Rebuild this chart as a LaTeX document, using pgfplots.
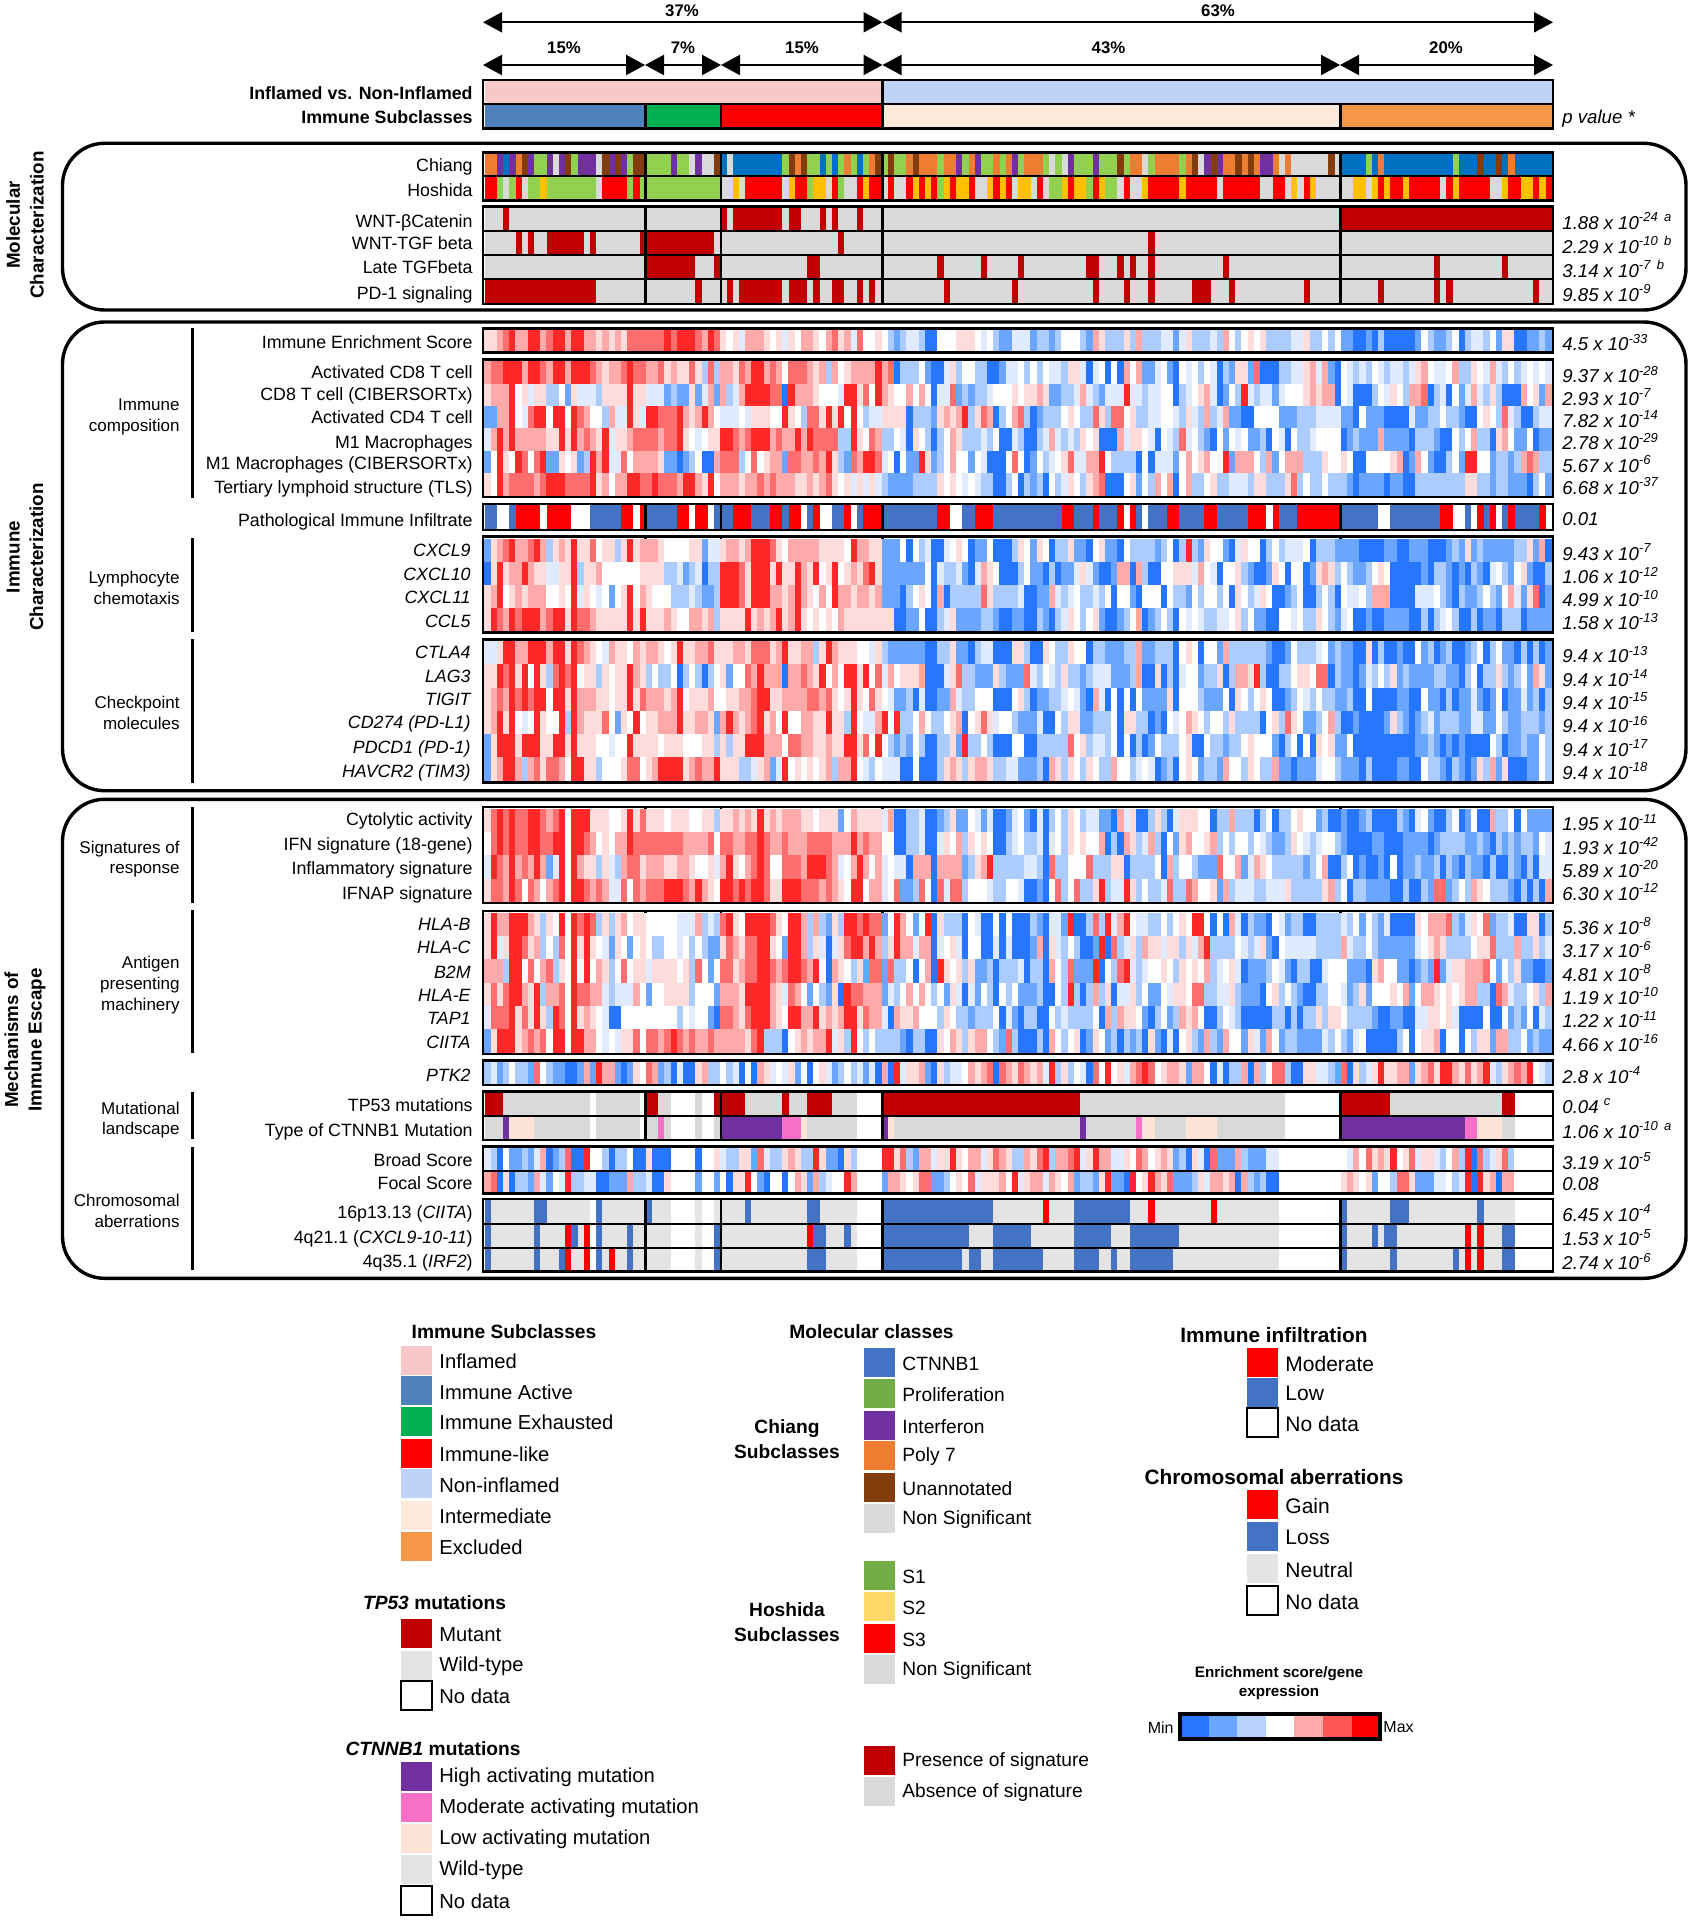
\documentclass[border=0pt]{standalone}
\usepackage{fontspec}
\setmainfont{Liberation Sans}
\usepackage{pgfplots}
\pgfplotsset{compat=1.18}
\usetikzlibrary{arrows.meta}

% categorical colours
\definecolor{catn}{RGB}{217,217,217}
\definecolor{catd}{RGB}{192,0,0}
\definecolor{cato}{RGB}{237,125,49}
\definecolor{catp}{RGB}{112,48,160}
\definecolor{catb}{RGB}{0,112,192}
\definecolor{catg}{RGB}{146,208,80}
\definecolor{catu}{RGB}{132,60,12}
\definecolor{catr}{RGB}{255,0,0}
\definecolor{caty}{RGB}{255,192,0}
\definecolor{catl}{RGB}{68,114,196}
\definecolor{catw}{RGB}{255,255,255}
\definecolor{catm}{RGB}{246,111,200}
\definecolor{catf}{RGB}{253,228,214}
\definecolor{cate}{RGB}{228,228,228}
\definecolor{cati}{RGB}{248,200,200}
\definecolor{catj}{RGB}{192,210,248}
\definecolor{cata}{RGB}{79,129,189}
\definecolor{catx}{RGB}{0,176,80}
\definecolor{catq}{RGB}{253,233,217}
\definecolor{catk}{RGB}{247,150,70}
\definecolor{legg}{RGB}{112,173,71}
\definecolor{legy}{RGB}{255,217,102}
\definecolor{barA}{RGB}{38,118,255}
\definecolor{barB}{RGB}{106,165,255}
\definecolor{barC}{RGB}{184,210,255}
\definecolor{barE}{RGB}{255,170,170}
\definecolor{barF}{RGB}{255,85,85}

% one heatmap cell, half height = mark size
\pgfdeclareplotmark{cell}{\pgfpathrectangle{\pgfpoint{-1.6pt}{-\pgfplotmarksize}}{\pgfpoint{3.2pt}{2\pgfplotmarksize}}\pgfusepathqfill}
\pgfplotsset{hm/.style={scatter,only marks,mark=cell,forget plot,point meta=explicit,
  scatter/use mapped color={fill=mapped color}}}
\tikzset{pa/.style={line width=1.1pt,{Triangle[length=9.5pt,width=10pt]}-{Triangle[length=9.5pt,width=10pt]}},
  pn/.style={line width=1.7pt,rounded corners=21pt},
  every node/.append style={inner sep=0pt}}

\newcommand\hgroup[3]{\foreach\v[count=\i from #2] in {#3}{\pgfmathsetmacro\xx{484.5+6.205*(\i+.5)}\xdef\buf{\buf(\xx,#1)[\v]}}}
% y, half height, then the five subclasses
\newcommand\hrow[7]{\gdef\buf{}\hgroup{#1}{0}{#3}\hgroup{#1}{26}{#4}\hgroup{#1}{38}{#5}\hgroup{#1}{64}{#6}\hgroup{#1}{138}{#7}%
  \edef\tmp{\noexpand\addplot[hm,mark size=#2pt] coordinates {\buf};}\tmp}

% y, thickness, list of colour/number of patients
\newcount\cpos
\newcommand\catrow[3]{\global\cpos=0 \foreach\c/\n in {#3}{%
  \pgfmathsetmacro\xa{484.5+6.205*\the\cpos}\global\advance\cpos by \n\relax\pgfmathsetmacro\xb{484.5+6.205*\the\cpos}%
  \edef\tmp{\noexpand\addplot[forget plot,line width=#2pt,color=cat\c] coordinates {(\xa,#1)(\xb,#1)};}\tmp}}

\newcommand\boxr[2]{\draw[line width=1.4pt] (483,#1) rectangle (1553,#2);}
\newcommand\seps[2]{\draw[line width=1.2pt] (645.5,#1)--(645.5,#2);\draw[line width=1.2pt] (721,#1)--(721,#2);\draw[line width=1.2pt] (882.5,#1)--(882.5,#2);\draw[line width=1.2pt] (1340.5,#1)--(1340.5,#2);}
\newcommand\hl[1]{\draw[line width=1pt] (483,#1)--(1553,#1);}
\newcommand\lab[2]{\node[anchor=east,font=\lf] at (473,#1) {#2};}
\newcommand\gen[2]{\node[anchor=east,font=\lf\itshape] at (471,#1) {#2};}
\newcommand\pv[4]{\node[anchor=west,font=\pf] at (1562,#1+2) {\textit{#2 x 10\textsuperscript{#3}\,\textsuperscript{\,#4}}};}
\newcommand\pvp[3]{\node[anchor=west,font=\pf] at (1562,#1+2) {\textit{#2}\,\textsuperscript{\,\textit{#3}}};}
\newcommand\grp[2]{\node[anchor=east,align=right,font=\grf] at (180,#1) {#2};}
\newcommand\vb[2]{\draw[line width=1.5pt] (192,#1)--(192,#2);}
\newcommand\sw[5][\gf]{\fill[#4] (#2,#3-14.5) rectangle (#2+31,#3+14.5);\node[anchor=west,font=#1] at (#2+38,#3+1.5) {#5};}
\newcommand\swn[4][\gf]{\draw[line width=1pt,fill=white] (#2,#3-14.5) rectangle (#2+31,#3+14.5);\node[anchor=west,font=#1] at (#2+38,#3+1.5) {#4};}
\newcommand\swm[3]{\sw[\gfm]{864}{#1}{#2}{#3}}
\newcommand\swr[3]{\sw[\gfr]{1247}{#1}{#2}{#3}}
\newcommand\pct[3]{\node[font=\fontsize{8.4}{10}\selectfont\bfseries] at (#1,#2) {#3\%};}
\newcommand\side[2]{\node[rotate=90,align=center,font=\fontsize{9.4}{11.8}\selectfont\bfseries] at (25,#1) {#2};}
\newcommand\lf{\fontsize{8.9}{11}\selectfont}
\newcommand\pf{\fontsize{9.3}{11}\selectfont}
\newcommand\grf{\fontsize{8.5}{10.4}\selectfont}
\newcommand\gf{\fontsize{10.1}{12}\selectfont}
\newcommand\gfm{\fontsize{9.6}{12}\selectfont}
\newcommand\gfr{\fontsize{10.5}{12}\selectfont}
\newcommand\tf{\fontsize{9.6}{12.3}\selectfont\bfseries}

\begin{document}
\begin{tikzpicture}
\useasboundingbox (0,0) rectangle (846.5pt,960pt);
\begin{axis}[
  at={(0,0)},anchor=south west,
  width=846.5pt,height=960pt,scale only axis,hide axis,clip=false,
  xmin=0,xmax=1693,ymin=0,ymax=1920,y dir=reverse,
  point meta min=1,point meta max=9,
  colormap={heat}{rgb255=(38,118,255) rgb255=(106,165,255) rgb255=(172,203,255) rgb255=(225,235,255) rgb255=(255,255,255) rgb255=(255,220,220) rgb255=(255,170,170) rgb255=(255,110,110) rgb255=(255,40,40)},
]
% top bars
\catrow{92}{12}{i/64,j/108}
\catrow{116.3}{12}{a/26,x/12,r/26,q/74,k/34}
% molecular
\catrow{164.5}{12}{o/2,p/1,b/1,p/1,o/1,u/1,p/1,g/2,p/1,n/1,p/1,u/1,g/1,p/3,n/1,u/1,p/1,u/1,p/1,g/1,u/2,g/4,p/1,g/2,n/1,p/1,n/2,u/1,b/1,n/1,b/8,g/1,u/1,o/1,u/1,g/2,b/1,g/1,b/1,g/1,o/1,g/1,b/1,g/1,o/1,u/1,g/1,u/1,g/2,o/1,u/1,o/3,g/1,o/2,p/1,g/1,o/1,p/1,g/2,o/1,g/1,o/1,p/1,g/1,o/3,g/1,n/1,g/1,n/1,p/1,g/3,p/1,g/3,u/1,g/1,o/2,n/1,g/1,o/4,g/1,o/1,u/1,n/1,p/1,u/1,p/1,o/2,u/1,o/1,u/1,o/1,p/2,o/1,n/1,o/1,n/6,u/1,n/1,b/4,g/1,b/1,o/1,b/11,g/1,b/3,u/1,b/2,u/1,b/1,o/1,b/6}
\catrow{188}{12}{r/2,g/1,n/1,g/1,r/1,n/1,g/2,y/1,g/8,n/1,r/4,g/1,r/1,g/1,g/12,n/2,y/1,n/1,r/6,n/1,y/1,r/2,g/1,y/2,n/1,r/1,g/1,n/2,r/1,y/1,r/2,n/1,r/1,n/2,r/1,y/1,r/1,y/1,r/1,g/1,y/1,r/1,y/2,r/1,n/2,y/1,r/1,y/1,r/1,n/1,y/2,n/1,r/1,n/1,g/2,y/1,r/1,y/2,g/1,r/1,y/1,g/2,n/1,r/1,n/2,y/1,r/5,y/1,r/5,n/1,r/6,n/2,r/2,n/1,y/1,n/1,r/1,y/1,n/4,n/2,y/2,n/1,y/1,r/1,y/1,r/2,y/1,r/5,n/1,r/1,y/1,r/5,n/2,y/1,r/2,y/2,r/1,y/1,r/1}
\catrow{219}{12.3}{n/3,d/1,n/22,n/12,d/1,n/1,d/8,n/1,d/2,n/3,d/1,n/1,d/1,n/3,d/1,n/3,n/74,d/34}
\catrow{243}{12}{n/5,d/1,n/1,d/1,n/2,d/6,n/1,d/1,n/7,d/1,d/11,n/1,n/19,d/1,n/6,n/43,d/1,n/30,n/34}
\catrow{267}{12}{n/26,d/8,n/3,d/1,n/14,d/2,n/10,n/9,d/1,n/6,d/1,n/5,d/1,n/10,d/2,n/3,d/1,n/1,d/1,n/2,d/1,n/11,d/1,n/18,n/15,d/1,n/10,d/1,n/7}
\catrow{291.3}{12.6}{d/18,n/8,n/8,d/1,n/3,n/1,d/1,n/1,d/7,n/1,d/3,n/1,d/1,n/2,d/2,n/2,d/1,n/1,d/1,n/1,n/10,d/1,n/10,d/1,n/12,d/1,n/4,d/1,n/3,d/1,n/6,d/3,n/3,d/1,n/11,d/1,n/5,n/6,d/1,n/8,d/1,n/1,d/1,n/13,d/1,n/2}
% immune enrichment score
\hrow{340.5}{5.4}{6,6,7,8,9,7,7,9,9,7,8,9,9,7,9,9,7,7,6,7,6,7,6,8,8,8}{8,8,8,9,8,9,9,9,8,7,9,8}{6,5,6,4,7,7,7,6,5,6,4,6,5,7,7,6,5,7,8,6,7,4,8,5,5,6}{5,3,2,3,4,4,3,1,1,5,5,5,6,6,6,5,4,5,3,2,2,4,4,4,2,3,3,2,3,5,5,5,3,2,7,6,3,3,3,6,3,7,3,3,3,4,4,2,4,6,3,3,3,4,3,7,5,3,5,6,5,6,3,3,3,3,4,4,6,3,3,5,3,5}{2,2,1,1,2,1,3,1,1,1,1,1,2,5,3,2,2,3,5,1,3,4,4,3,5,2,6,6,1,1,2,2,3,2}
% immune composition
\hrow{372.5}{5.65}{7,8,8,9,9,9,7,9,9,8,7,9,9,7,9,9,9,8,7,6,7,7,8,9,8,8}{7,7,8,6,7,6,6,8,6,3,8,3}{7,7,6,8,7,9,9,7,8,7,5,8,8,8,7,6,7,3,7,5,6,7,7,7,7,9}{7,8,1,3,3,3,5,2,1,1,4,6,3,5,5,3,3,1,1,2,4,4,5,3,5,3,5,4,4,3,6,6,4,1,4,5,1,5,1,7,5,7,2,2,4,5,2,1,5,4,5,3,5,4,1,3,2,6,6,2,8,1,1,1,3,3,4,4,6,7,4,7,2,1}{5,4,3,4,3,5,4,3,4,4,3,4,6,7,5,4,4,5,7,3,3,6,5,4,7,4,3,5,3,4,5,4,5,4}
\hrow{394.8}{5.65}{6,7,7,7,9,5,6,4,6,6,3,3,5,2,6,4,4,4,3,6,6,6,6,9,6,6}{4,4,4,2,3,2,2,6,2,4,7,2}{7,3,4,7,9,9,9,9,8,8,1,9,7,7,7,6,5,5,5,4,9,9,6,8,5,9}{7,6,5,5,7,5,7,5,1,4,4,8,2,3,2,3,3,4,5,5,5,6,5,6,6,7,6,2,2,3,3,4,7,4,3,2,4,4,4,9,4,4,3,4,4,5,5,1,3,4,5,6,7,4,1,2,5,3,9,4,3,4,4,2,4,5,5,5,6,7,6,7,7,1}{5,4,1,1,1,3,5,4,6,5,3,7,7,8,1,3,4,1,5,2,4,7,4,3,6,3,1,1,1,7,5,6,2,7}
\hrow{417.2}{5.65}{2,2,7,7,9,5,4,8,9,9,5,9,9,5,9,8,7,5,5,3,7,4,4,9,6,4}{9,9,8,8,8,9,7,6,7,9,7,5}{4,4,4,5,4,6,6,6,5,5,9,6,5,3,8,8,6,9,6,9,5,9,5,3,4,4}{6,6,6,6,1,3,3,3,2,6,7,6,7,9,3,6,8,7,1,3,5,7,8,3,1,2,3,3,3,5,6,5,3,3,8,6,3,8,8,5,6,3,3,4,4,5,5,4,3,6,4,3,7,3,4,7,2,2,1,1,5,5,5,5,2,2,2,3,3,3,4,4,4,4}{2,2,1,5,2,2,2,1,1,1,1,4,2,2,3,3,5,3,3,2,1,1,5,6,5,3,8,4,3,1,1,3,4,4}
\hrow{439.5}{5.65}{4,7,9,7,9,7,7,7,7,7,6,6,9,6,9,7,8,7,6,9,4,6,6,7,8,8}{8,8,7,8,8,9,6,5,4,5,6,6}{9,9,8,7,8,9,9,9,7,8,7,7,9,7,9,8,8,8,8,3,3,9,6,5,8,7}{3,3,5,4,1,6,5,3,1,3,5,7,6,3,3,3,4,3,5,1,1,4,3,1,1,3,4,7,4,3,4,3,6,5,6,1,1,1,7,4,6,6,5,4,1,5,4,3,8,4,5,3,2,1,5,2,5,4,5,2,2,3,1,5,4,1,5,3,3,4,5,5,5,5}{1,2,3,2,2,2,7,2,2,2,2,1,3,3,3,2,1,1,5,3,5,7,3,3,1,6,7,5,2,2,5,1,2,2}
\hrow{461.8}{5.65}{2,5,9,6,5,9,8,5,8,9,2,2,6,5,6,2,3,9,7,9,4,4,8,5,7,7}{7,7,6,2,2,1,2,3,5,1,1,7}{8,8,8,3,5,8,5,6,7,7,2,8,8,7,7,8,7,9,6,3,2,8,7,9,9,8}{4,5,1,5,2,2,9,6,2,3,5,7,5,5,2,5,4,1,1,1,5,8,5,1,2,5,3,4,5,6,8,4,4,7,7,9,5,3,3,3,3,1,5,1,4,4,4,2,5,7,5,6,7,5,5,9,2,7,7,7,5,3,7,2,5,7,7,7,3,3,3,6,5,5}{6,5,1,1,5,5,5,5,6,7,1,2,7,5,2,1,1,3,5,2,9,9,5,5,2,3,3,2,3,7,8,7,3,3}
\hrow{484.2}{5.65}{6,5,9,7,8,8,8,8,7,8,9,9,9,8,8,8,8,9,6,7,5,7,7,9,9,8}{8,9,8,8,8,7,9,9,7,6,9,5}{7,7,7,6,7,7,8,7,8,7,7,7,6,6,7,6,7,8,6,5,6,4,6,4,6,4}{3,2,2,2,2,3,3,3,3,6,5,6,5,4,5,4,3,3,1,1,3,5,1,3,2,3,1,5,3,4,6,5,3,6,7,8,1,1,1,5,6,2,5,3,7,5,7,1,5,7,3,3,5,6,3,3,4,4,4,3,6,6,3,3,3,6,8,3,5,3,3,5,3,3}{3,2,1,2,2,2,2,1,2,2,1,1,3,3,3,3,3,3,3,3,6,6,3,3,2,3,3,2,2,2,1,3,5,2}
% pathological immune infiltrate
\catrow{517}{13}{l/2,w/2,l/1,r/4,w/1,r/4,w/3,l/5,r/2,w/1,r/1,l/5,r/2,w/1,r/2,w/1,l/1,l/2,r/3,l/3,r/2,l/1,r/2,w/1,l/1,r/1,w/2,l/2,r/1,w/1,l/1,r/3,l/9,r/2,w/2,l/2,r/3,l/11,r/2,l/3,r/1,l/3,r/1,w/1,r/1,l/1,w/1,l/3,r/2,l/4,r/2,l/5,r/3,w/1,r/1,l/3,r/7,l/6,w/2,l/8,r/2,w/2,l/1,w/1,r/1,l/1,r/1,w/1,l/1,r/1,l/4,r/1,w/1}
% lymphocyte chemotaxis
\hrow{550.3}{5.8}{2,6,7,8,9,7,7,8,9,7,3,6,7,6,9,6,6,8,5,6,6,3,6,9,6,7}{7,7,6,5,5,5,5,6,6,2,4,4}{6,7,7,6,7,9,9,9,8,6,5,7,7,7,7,7,6,6,6,6,5,9,7,7,6,6}{2,2,2,5,1,5,3,4,1,1,4,5,6,5,1,2,2,5,1,1,1,3,6,5,2,6,5,1,3,3,6,2,2,1,5,6,2,2,1,5,3,3,3,3,2,3,5,1,3,9,3,2,6,5,5,2,1,4,6,5,5,1,3,5,3,4,4,4,5,1,3,3,3,2}{2,2,2,1,1,1,1,2,2,1,1,2,2,2,1,1,1,2,3,2,6,2,3,2,2,2,2,2,3,3,6,2,7,1}
\hrow{573.4}{5.8}{1,6,9,6,7,7,9,7,6,6,4,4,6,6,9,3,6,6,7,5,5,5,5,5,5,6}{6,6,6,3,3,4,2,3,4,1,3,3}{9,9,9,8,6,9,9,9,6,9,6,6,9,7,6,9,5,6,9,5,6,7,6,8,9,6}{2,2,2,2,2,2,2,5,1,4,3,3,4,2,1,4,7,6,5,1,1,1,3,5,2,2,1,3,1,2,2,4,6,4,2,1,1,2,7,7,1,7,3,1,1,5,5,6,6,6,4,7,5,4,1,5,5,6,3,2,1,1,2,6,5,1,5,5,1,2,6,7,6,3}{5,3,2,2,3,5,6,5,1,1,1,1,1,2,1,3,3,2,1,2,1,3,2,1,4,5,3,2,5,6,2,1,1,3}
\hrow{596.5}{5.8}{6,7,9,5,6,7,6,7,7,7,5,5,6,5,9,4,6,5,4,5,2,5,6,9,5,7}{6,5,5,5,3,3,3,4,3,2,2,3}{9,9,9,8,6,9,9,9,7,7,6,7,9,7,6,5,7,5,9,7,7,6,7,7,6,7}{2,2,2,1,3,5,6,5,1,7,1,3,3,3,3,3,8,6,3,3,3,3,4,1,1,2,2,7,4,3,4,5,3,3,4,3,5,1,5,5,2,1,5,5,5,1,5,3,3,2,5,3,5,5,3,5,1,6,5,3,4,6,5,1,1,2,3,5,1,1,3,5,3,1}{5,4,4,5,3,7,7,7,1,1,1,1,4,4,4,5,3,2,1,3,2,2,3,5,3,2,5,7,4,2,6,8,1,2}
\hrow{619.6}{5.8}{6,9,8,7,9,8,9,9,9,7,8,9,9,6,9,8,8,7,6,6,6,6,6,9,6,9}{6,6,6,7,6,5,5,7,7,6,7,3}{6,6,6,6,9,6,7,6,7,9,6,7,9,6,5,6,5,6,5,7,6,6,6,6,6,6}{6,6,1,1,2,2,5,1,1,3,4,6,2,2,2,2,3,3,2,1,1,2,2,1,1,3,2,1,3,4,6,5,3,5,6,2,1,1,2,3,5,7,1,2,3,5,3,1,5,4,5,4,3,3,4,4,5,6,3,5,2,2,1,1,5,5,4,5,3,3,6,5,3,2}{4,5,1,1,2,1,1,2,2,2,2,1,1,3,1,3,4,5,3,1,1,3,1,2,2,1,3,3,3,1,2,2,2,2}
% checkpoint molecules
\hrow{652.6}{5.85}{4,4,6,9,9,7,7,9,9,9,7,9,9,6,9,8,7,6,5,4,7,6,6,5,7,6}{7,7,6,5,6,9,6,6,7,7,8,6}{6,6,7,7,6,8,8,8,6,7,9,6,6,7,7,3,6,9,7,6,6,6,5,5,4,6}{3,2,2,2,2,2,2,1,1,3,3,6,2,2,1,3,4,4,1,1,1,6,6,3,1,1,6,5,3,3,6,5,5,1,3,3,2,2,2,3,3,7,2,2,3,3,3,1,5,6,5,1,5,5,2,7,3,3,3,3,3,3,2,1,1,2,5,3,3,3,4,5,2,3}{2,2,1,1,6,1,3,1,1,2,1,1,5,2,3,1,2,3,1,1,2,3,5,1,3,5,2,2,1,3,1,3,1,2}
\hrow{675.9}{5.85}{6,6,9,8,9,6,9,5,9,6,3,8,9,8,9,5,6,6,3,6,5,6,6,9,7,6}{3,5,3,3,5,1,3,5,3,1,3,5}{6,2,5,5,8,7,9,7,7,7,1,7,7,8,7,6,9,5,7,5,9,9,6,9,5,8}{4,7,5,6,6,6,7,1,1,1,4,6,8,3,3,2,2,2,6,3,2,2,2,8,4,3,5,4,3,6,3,3,2,3,4,4,4,2,2,2,3,7,1,1,6,1,3,1,4,5,5,2,3,3,6,1,3,7,7,6,9,3,1,1,3,3,5,6,6,5,8,8,1,3}{2,2,1,2,4,3,5,3,6,2,3,2,2,2,2,3,3,2,2,1,3,5,1,3,3,6,3,2,3,5,2,7,6,2}
\hrow{699.2}{5.85}{6,7,8,7,9,8,9,8,9,9,5,9,9,6,9,7,7,7,6,6,5,6,6,9,6,8}{7,7,7,6,7,9,5,6,6,6,7,5}{5,6,6,7,7,8,9,9,6,6,7,7,7,7,8,8,7,8,6,5,6,9,6,5,8,6}{5,4,2,2,3,1,4,1,1,2,2,7,4,3,3,5,5,5,1,1,1,5,6,3,1,2,2,3,3,4,5,4,2,1,7,4,1,5,1,5,1,5,2,2,2,2,6,1,5,5,5,3,2,2,2,5,1,6,5,3,5,6,5,1,1,2,3,5,4,3,5,3,3,2}{2,3,1,1,5,1,1,1,1,2,2,1,1,5,2,2,1,3,1,2,2,4,2,1,2,5,1,2,2,4,2,3,1,3}
\hrow{722.5}{5.85}{6,7,9,6,9,5,4,5,9,6,5,5,9,3,9,7,6,6,6,8,5,2,6,5,9,5}{6,6,7,7,7,9,6,6,7,7,6,2}{7,9,7,6,7,8,9,6,7,5,9,5,5,7,7,6,6,9,6,6,3,9,5,4,4,7}{9,5,9,3,3,5,7,5,3,3,5,6,7,1,5,6,8,6,4,5,5,3,2,2,2,4,1,1,5,3,6,6,2,2,3,3,3,5,1,6,6,3,3,1,2,1,5,4,5,7,6,5,3,5,5,3,6,3,3,3,3,1,5,6,3,8,6,5,2,2,3,5,7,3}{1,1,2,1,1,1,1,2,6,3,2,1,2,3,4,2,3,3,3,2,2,4,4,2,2,5,3,2,2,3,3,3,2,3}
\hrow{745.8}{5.85}{2,6,9,9,9,6,9,9,9,6,6,9,9,6,9,6,6,6,5,5,4,5,5,9,6,6}{6,6,5,6,6,6,5,5,5,6,6,3}{6,3,6,6,9,9,9,7,7,7,5,8,8,7,7,6,6,7,6,6,9,9,6,8,5,9}{5,3,2,3,2,5,3,1,1,3,3,6,2,9,3,3,5,3,1,1,1,5,5,1,1,3,3,3,3,3,8,5,6,3,4,4,3,5,1,5,1,3,1,2,5,3,3,3,5,6,1,1,5,3,3,2,3,3,5,6,5,5,5,2,1,3,5,1,5,1,6,5,6,2}{2,5,1,1,1,1,1,1,1,1,1,1,2,2,3,2,1,2,1,2,1,1,1,1,5,3,1,2,2,3,2,2,5,3}
\hrow{769.1}{5.85}{2,6,7,9,9,7,3,7,8,6,8,8,7,5,9,9,6,6,3,5,5,5,6,8,8,5}{6,7,9,9,9,9,6,7,8,7,7,9}{6,6,6,3,3,4,6,7,2,4,9,5,6,5,6,5,6,7,3,7,7,9,5,4,3,5}{4,4,4,1,1,5,1,1,1,3,6,7,6,3,6,7,7,6,3,3,4,4,2,2,2,3,1,7,6,3,6,5,3,6,5,3,3,7,5,5,3,4,5,4,1,2,3,1,5,6,5,2,3,3,2,7,5,5,3,6,5,3,3,7,2,2,1,2,2,2,4,5,5,3}{2,2,2,1,3,1,1,1,1,2,2,1,1,5,3,3,2,1,3,2,1,2,6,3,7,2,6,1,1,1,2,2,5,3}
% signatures of response
\hrow{820.6}{5.85}{6,8,9,8,9,8,8,9,9,8,7,8,9,5,9,9,9,6,6,6,5,5,6,9,6,8}{6,6,6,5,6,6,6,5,5,6,6,3}{6,6,7,6,7,6,9,6,7,6,7,7,7,6,6,5,6,6,6,2,5,7,6,6,6,6}{4,7,1,1,3,3,4,1,1,2,3,6,2,2,5,4,2,4,1,1,2,4,5,2,1,4,1,3,5,3,6,5,3,4,4,2,2,1,7,4,6,1,1,3,6,3,1,4,6,6,6,5,5,1,3,3,7,3,3,3,1,3,5,1,3,3,5,6,5,5,2,3,1,1}{2,1,1,2,3,1,1,1,1,3,2,1,4,5,2,1,1,3,5,1,2,5,1,1,7,3,3,5,1,5,2,2,2,2}
\hrow{843.8}{5.85}{5,8,9,8,9,8,8,9,9,8,8,9,9,5,9,9,8,7,5,6,5,7,7,9,8,8}{8,8,8,8,8,8,7,7,7,7,8,5}{8,8,7,7,8,8,9,8,7,7,8,7,7,7,8,8,8,8,7,7,7,9,7,8,7,7}{5,5,1,1,3,3,4,1,1,4,6,5,7,3,6,5,6,5,1,1,3,4,5,3,3,4,1,4,5,3,6,5,6,5,5,7,1,3,1,7,6,3,4,7,3,1,5,2,6,7,5,5,6,7,3,5,3,5,5,3,5,4,3,2,2,3,6,5,4,3,4,5,5,3}{2,1,1,1,1,2,2,1,1,1,2,2,2,2,1,2,3,3,3,3,2,2,3,2,1,3,2,3,2,3,3,2,5,4}
\hrow{867}{5.85}{4,9,8,7,9,7,8,7,9,7,2,4,9,5,9,7,6,6,3,6,4,3,7,8,8,6}{7,7,7,6,6,7,7,6,5,5,6,4}{7,9,6,5,7,8,9,8,5,5,8,8,8,7,9,9,9,8,7,4,5,7,9,7,5,7}{4,5,4,4,1,7,7,7,1,7,7,7,7,2,3,6,7,9,3,3,3,3,3,4,4,3,1,8,3,3,5,5,5,8,3,3,3,6,6,1,3,3,3,3,5,1,7,3,5,5,3,2,2,2,8,5,5,7,2,4,7,6,5,3,3,3,3,3,2,3,5,7,1,1}{3,5,1,2,1,1,2,1,5,1,2,2,3,2,2,3,1,3,2,1,3,2,2,1,3,1,1,3,2,1,3,1,4,4}
\hrow{890.2}{5.85}{6,8,8,7,9,8,5,8,7,5,7,8,9,5,9,9,8,7,8,7,4,4,8,5,8,7}{8,8,8,9,9,9,8,7,9,7,6,5}{9,9,8,9,8,9,9,8,6,6,9,9,9,8,8,8,7,8,7,6,5,9,9,5,7,7}{4,5,8,2,2,3,8,5,1,8,4,8,8,3,5,5,5,4,3,3,5,5,4,1,1,2,1,5,8,3,5,8,3,3,6,9,3,4,4,9,6,3,5,3,3,4,8,3,3,8,7,5,5,6,2,7,3,4,4,4,3,3,4,4,4,6,3,3,3,3,3,6,7,3}{5,1,3,3,2,2,2,2,1,1,3,1,1,3,2,8,8,2,3,5,3,7,6,5,3,3,3,2,1,3,1,3,1,7}
% antigen presenting machinery
\hrow{924.3}{5.85}{6,9,7,7,9,9,9,7,6,3,6,5,9,5,9,8,9,8,3,6,3,6,7,5,6,6}{5,5,5,5,5,4,4,4,7,3,4,3}{8,9,6,5,9,9,9,9,8,6,5,9,9,7,3,7,3,2,6,3,9,9,8,9,8,8}{2,5,9,7,5,2,5,9,1,6,3,3,3,1,5,4,1,1,5,1,5,1,1,1,3,2,1,4,4,2,9,1,1,3,8,3,9,4,7,9,5,4,4,3,3,5,3,5,6,5,9,9,5,1,5,1,7,4,1,3,2,2,1,5,4,2,3,3,1,1,3,3,3,3}{4,3,5,2,5,3,2,4,1,1,1,1,6,5,7,7,7,8,3,2,4,6,5,8,2,3,3,4,1,1,6,6,1,3}
\hrow{947.6}{5.85}{6,9,4,6,9,9,8,6,7,3,5,3,8,5,9,6,9,6,5,4,2,6,5,2,5,6}{5,3,3,5,5,4,5,3,5,3,2,2}{6,8,7,6,8,8,9,9,6,5,2,9,9,7,3,6,4,1,4,6,8,9,9,7,9,7}{3,6,9,7,7,4,7,7,1,4,5,6,4,1,5,5,1,1,4,1,4,1,1,1,2,7,1,6,4,3,5,3,1,1,2,9,1,8,3,4,6,3,7,6,6,4,6,6,3,6,4,7,9,3,3,3,3,5,4,3,4,6,2,1,5,4,4,4,4,4,3,3,3,3}{7,4,3,3,5,3,2,2,2,2,2,2,4,5,6,7,6,3,3,3,3,5,6,6,8,3,3,3,7,3,3,6,3,4}
\hrow{970.9}{5.85}{7,7,7,3,9,9,5,8,5,7,8,3,6,5,9,5,9,5,7,6,3,5,8,5,6,6}{4,6,6,6,6,5,6,3,8,5,2,5}{8,8,6,7,8,8,9,9,8,7,8,9,9,8,7,9,5,1,7,6,5,3,6,2,8,8}{2,8,3,3,5,1,5,7,1,9,6,5,6,3,6,2,2,3,1,3,3,3,4,1,3,3,1,7,5,3,8,2,2,2,9,1,5,3,8,9,4,3,4,5,5,6,5,3,6,5,6,5,7,3,4,5,6,4,1,2,2,2,3,5,4,2,1,3,3,1,1,4,5,5}{5,2,2,2,1,6,7,5,5,2,2,1,2,3,2,9,2,4,6,6,7,7,7,8,5,2,5,3,6,2,2,1,1,2}
\hrow{994.2}{5.85}{6,8,6,8,9,9,7,6,9,3,7,7,8,5,9,8,8,7,7,4,3,4,4,4,7,5}{2,5,5,6,6,6,6,3,5,5,5,2}{7,7,7,6,9,9,9,9,7,6,4,8,7,5,2,5,3,2,6,1,9,8,8,7,7,7}{2,4,3,5,7,5,7,5,3,5,2,6,4,1,4,2,5,3,1,5,3,5,2,2,2,3,1,1,5,3,9,3,1,3,7,3,6,1,4,4,6,3,5,2,2,5,4,6,6,5,8,8,3,3,4,4,6,3,2,2,2,1,5,6,3,5,3,2,1,1,3,3,5,5}{4,2,3,6,2,5,5,5,6,5,7,2,5,7,7,6,5,6,5,6,7,7,3,3,1,8,7,4,3,3,5,6,3,7}
\hrow{1017.5}{5.85}{4,8,8,8,9,6,8,6,9,6,3,9,8,5,9,6,7,6,5,4,1,1,5,5,5,5}{5,5,5,5,5,3,5,4,5,5,2,1}{8,8,7,6,8,9,9,9,7,6,5,9,9,7,7,9,6,7,6,7,9,9,6,8,7,7}{4,1,7,6,6,7,5,5,5,3,6,5,3,3,2,3,3,3,5,1,4,2,1,3,3,1,1,5,3,4,3,3,3,3,5,1,7,3,7,6,6,5,2,1,3,5,2,3,7,6,7,5,1,1,3,5,4,3,1,1,1,1,1,3,3,1,3,1,3,3,6,3,6,6}{5,3,3,3,3,2,1,1,2,2,1,1,4,4,6,6,5,6,4,1,1,1,1,5,1,1,5,2,3,2,5,1,4,3}
\hrow{1040.8}{5.85}{2,6,9,9,9,6,7,8,7,8,5,9,9,5,9,9,7,7,5,4,5,4,6,6,8,5}{8,8,7,8,9,8,7,8,7,7,8,7}{7,7,7,7,6,8,9,3,3,3,1,5,6,7,6,7,7,9,4,6,3,9,5,3,5,3}{3,3,3,2,1,3,3,1,1,6,5,7,6,3,6,7,7,5,3,2,8,3,1,1,1,3,1,7,5,3,5,6,1,2,6,5,2,3,1,3,2,3,1,6,2,1,4,1,5,6,3,2,7,3,2,7,5,5,2,6,4,2,7,5,2,3,3,2,2,2,2,4,3,5}{3,2,4,5,1,1,1,1,1,3,5,1,5,6,6,7,1,5,5,1,5,3,6,6,2,7,7,3,3,5,2,3,2,2}
% PTK2
\hrow{1072.8}{5.5}{3,4,2,3,5,3,3,2,8,5,3,2,2,1,1,2,7,2,9,7,7,2,1,2,6,5}{8,7,2,3,1,4,1,1,6,7,3,3}{5,3,4,1,5,1,7,6,4,5,4,6,2,5,1,5,6,4,2,3,5,3,4,2,4,1}{7,1,9,4,6,6,7,2,1,6,3,4,4,5,7,6,7,8,1,8,7,6,8,7,6,7,4,9,3,6,3,5,4,1,8,5,9,5,6,4,7,8,9,8,5,6,7,7,6,2,7,7,5,1,4,1,3,3,7,1,7,3,5,8,8,3,1,1,6,6,4,4,3,2}{8,1,6,3,4,6,9,6,6,7,7,2,6,7,8,6,9,9,7,6,8,6,7,9,4,3,6,7,8,7,9,5,4,3}
% mutations
\catrow{1103.8}{12}{d/3,n/14,w/1,n/7,w/1,d/2,n/2,w/4,n/1,w/2,d/1,d/4,n/6,d/1,n/3,d/4,n/4,w/4,d/32,n/33,w/9,d/8,n/18,d/2,w/6}
\catrow{1128}{12}{n/3,p/1,f/4,n/9,w/1,n/7,w/1,n/2,m/1,n/1,w/4,n/1,w/2,n/1,p/10,m/3,f/1,n/8,w/4,p/1,f/1,n/30,p/1,n/8,m/1,f/2,n/5,f/5,n/11,w/9,p/20,m/2,f/4,n/2,w/6}
% broad and focal score
\hrow{1159}{5.4}{4,3,1,5,2,2,3,2,4,7,1,2,3,8,1,1,9,5,5,3,1,3,3,5,1,1}{6,1,1,1,5,5,5,5,1,5,5,6}{4,3,3,6,6,2,8,4,3,3,6,7,6,3,3,9,6,2,2,1,6,3,5,5,5,5}{9,9,6,8,3,2,7,7,4,6,6,9,6,5,7,7,4,6,8,7,6,3,3,7,6,8,9,3,7,7,8,9,4,6,9,7,7,4,4,6,5,8,7,5,6,7,6,2,3,1,6,4,1,8,2,2,2,7,3,2,2,2,4,4,5,5,5,5,5,5,5,5,5,5}{5,4,7,5,8,6,7,6,9,5,6,8,4,6,6,4,3,5,7,3,9,1,8,3,4,6,8,3,5,5,5,5,5,5}
\hrow{1182}{5.2}{7,8,1,6,1,3,3,2,7,4,2,5,4,9,3,3,4,4,1,1,2,2,2,7,3,3}{4,1,1,6,5,5,5,5,2,5,5,2}{5,1,6,6,9,5,2,1,5,5,1,5,7,6,2,7,3,4,5,5,9,7,5,5,5,5}{2,7,7,6,5,6,8,8,2,2,3,5,6,5,8,4,6,6,6,7,5,9,4,6,7,7,4,7,6,5,7,2,3,3,2,6,9,2,2,1,9,5,6,9,7,6,8,2,2,2,3,6,4,7,7,6,7,1,7,3,2,3,1,1,5,5,5,5,5,5,5,5,5,5}{6,7,6,5,6,2,5,5,3,8,8,6,2,2,2,4,4,5,3,4,9,1,9,6,7,1,7,7,5,5,5,5,5,5}
% chromosomal aberrations
\catrow{1211}{12}{l/1,e/7,l/2,e/7,w/1,l/1,e/7,l/1,e/3,w/4,e/1,w/2,e/1,e/4,l/1,e/9,l/2,e/6,w/4,l/18,e/8,r/1,e/4,l/9,e/3,r/1,e/9,r/1,e/10,w/10,l/1,e/7,l/3,e/11,l/1,e/5,w/6}
\catrow{1235.5}{12}{l/1,e/7,l/1,e/4,r/1,l/1,e/1,r/1,w/1,l/1,e/4,l/1,e/2,e/4,w/4,e/1,w/2,l/1,e/14,r/1,l/2,e/3,l/1,e/1,w/4,l/14,e/4,l/6,e/7,l/6,e/3,l/8,e/16,w/10,l/1,e/4,l/1,e/1,l/2,e/11,r/1,e/1,r/1,e/3,l/2,w/6}
\catrow{1259.5}{12}{l/1,e/7,l/1,e/3,l/1,r/1,e/2,r/1,w/1,l/1,e/1,r/1,e/2,l/1,e/2,e/4,w/4,e/1,w/2,l/1,e/14,l/3,e/5,w/4,l/13,e/1,l/2,e/2,l/8,e/5,l/4,e/2,l/1,e/2,l/7,e/17,w/10,l/1,e/7,l/1,e/9,l/1,e/1,r/1,e/1,r/1,e/3,l/2,w/6}

% frames
\boxr{80}{128.7}\hl{104}\seps{104}{128.7}\draw[line width=1.2pt] (882.5,80)--(882.5,104);
\boxr{152.3}{200.3}\hl{176}\seps{152.3}{200.3}
\boxr{206.7}{304}\hl{231.3}\hl{255}\hl{278.7}\seps{206.7}{304}
\boxr{328.3}{352.3}\seps{328.3}{352.3}
\boxr{359.3}{496.7}\seps{359.3}{496.7}
\boxr{504}{530}\seps{504}{530}
\boxr{536.7}{632.7}\seps{536.7}{632.7}
\boxr{639.3}{782.7}\seps{639.3}{782.7}
\boxr{807}{903}\seps{807}{903}
\boxr{911}{1054}\seps{911}{1054}
\boxr{1060.7}{1085}\seps{1060.7}{1085}
\boxr{1091.7}{1140}\hl{1116}\seps{1091.7}{1140}
\boxr{1146.7}{1193.3}\hl{1171}\seps{1146.7}{1193.3}
\boxr{1199}{1271.7}\hl{1223.5}\hl{1247.5}\seps{1199}{1271.7}

% percentage arrows
\draw[pa] (483,22.3)--(882.5,22.3);\draw[pa] (882.5,22.3)--(1553,22.3);
\draw[pa] (483,65)--(645,65);\draw[pa] (645,65)--(721,65);\draw[pa] (721,65)--(882.5,65);\draw[pa] (882.5,65)--(1340,65);\draw[pa] (1340,65)--(1553,65);
\pct{682}{11}{37}\pct{1218}{11}{63}\pct{564}{47.5}{15}\pct{683}{47.5}{7}\pct{802}{47.5}{15}\pct{1108.5}{47.5}{43}\pct{1446}{47.5}{20}
\node[anchor=east,font=\lf\bfseries] at (473,93.5) {Inflamed vs. Non-Inflamed};
\node[anchor=east,font=\lf\bfseries] at (473,117.5) {Immune Subclasses};
\node[anchor=west,font=\pf\itshape] at (1562,119) {p value *};

% panels
\draw[pn] (62.5,143.3) rectangle (1686,310);
\draw[pn] (62.5,322) rectangle (1686,790.7);
\draw[pn] (62.5,799.3) rectangle (1686,1278.3);
\side{225}{Molecular\\Characterization}\side{557}{Immune\\Characterization}\side{1040}{Mechanisms of\\Immune Escape}

% row labels
\lab{167}{Chiang}\lab{190.5}{Hoshida}\lab{222.5}{WNT-βCatenin}\lab{243.5}{WNT-TGF beta}\lab{267}{Late TGFbeta}\lab{294.5}{PD-1 signaling}
\lab{342}{Immune Enrichment Score}\lab{372.5}{Activated CD8 T cell}\lab{396}{CD8 T cell (CIBERSORTx)}\lab{417.5}{Activated CD4 T cell}\lab{443.5}{M1 Macrophages}\lab{465}{M1 Macrophages (CIBERSORTx)}\lab{488.5}{Tertiary lymphoid structure (TLS)}
\lab{521.5}{Pathological Immune Infiltrate}
\gen{550.3}{CXCL9}\gen{574.5}{CXCL10}\gen{597.5}{CXCL11}\gen{621}{CCL5}
\gen{652.6}{CTLA4}\gen{675.9}{LAG3}\gen{699.2}{TIGIT}\gen{723.7}{CD274 (PD-L1)}\gen{749}{PDCD1 (PD-1)}\gen{772.5}{HAVCR2 (TIM3)}
\lab{820.6}{Cytolytic activity}\lab{846.3}{IFN signature (18-gene)}\lab{869.5}{Inflammatory signature}\lab{894.5}{IFNAP signature}
\gen{924.3}{HLA-B}\gen{947.6}{HLA-C}\gen{972}{B2M}\gen{995.5}{HLA-E}\gen{1018.5}{TAP1}\gen{1042}{CIITA}
\gen{1075.5}{PTK2}\lab{1105}{TP53 mutations}\lab{1131.5}{Type of CTNNB1 Mutation}\lab{1160}{Broad Score}\lab{1183}{Focal Score}
\lab{1213.5}{16p13.13 (\textit{CIITA})}\lab{1238.5}{4q21.1 (\textit{CXCL9-10-11})}\lab{1262.5}{4q35.1 (\textit{IRF2})}

% group labels
\vb{328}{498}\vb{538}{632}\vb{639}{783}\vb{807}{903}\vb{910}{1053}\vb{1092}{1139}\vb{1147}{1270}
\grp{417}{Immune\\composition}\grp{588}{Lymphocyte\\chemotaxis}\grp{713}{Checkpoint\\molecules}\grp{859}{Signatures of\\response}\grp{985}{Antigen\\presenting\\machinery}\grp{1120}{Mutational\\landscape}\grp{1211}{Chromosomal\\aberrations}

% p values
\pv{219}{1.88}{-24}{a}\pv{243}{2.29}{-10}{b}\pv{267}{3.14}{-7}{b}\pv{291.3}{9.85}{-9}{}
\pv{340.5}{4.5}{-33}{}\pv{372.5}{9.37}{-28}{}\pv{394.8}{2.93}{-7}{}\pv{417.2}{7.82}{-14}{}\pv{439.5}{2.78}{-29}{}\pv{461.8}{5.67}{-6}{}\pv{484.2}{6.68}{-37}{}
\pvp{517}{0.01}{}
\pv{550.3}{9.43}{-7}{}\pv{573.4}{1.06}{-12}{}\pv{596.5}{4.99}{-10}{}\pv{619.6}{1.58}{-13}{}
\pv{652.6}{9.4}{-13}{}\pv{675.9}{9.4}{-14}{}\pv{699.2}{9.4}{-15}{}\pv{722.5}{9.4}{-16}{}\pv{745.8}{9.4}{-17}{}\pv{769.1}{9.4}{-18}{}
\pv{820.6}{1.95}{-11}{}\pv{843.8}{1.93}{-42}{}\pv{867}{5.89}{-20}{}\pv{890.2}{6.30}{-12}{}
\pv{924.3}{5.36}{-8}{}\pv{947.6}{3.17}{-6}{}\pv{970.9}{4.81}{-8}{}\pv{994.2}{1.19}{-10}{}\pv{1017.5}{1.22}{-11}{}\pv{1040.8}{4.66}{-16}{}
\pv{1072.8}{2.8}{-4}{}\pvp{1103.8}{0.04}{c}\pv{1128}{1.06}{-10}{a}\pv{1159}{3.19}{-5}{}\pvp{1182}{0.08}{}
\pv{1211}{6.45}{-4}{}\pv{1235.5}{1.53}{-5}{}\pv{1259.5}{2.74}{-6}{}

% legends
\node[font=\tf] at (504,1332) {Immune Subclasses};
\sw{401}{1360}{cati}{Inflamed}\sw{401}{1390.5}{cata}{Immune Active}\sw{401}{1421}{catx}{Immune Exhausted}\sw{401}{1453}{catr}{Immune-like}\sw{401}{1483.5}{catj}{Non-inflamed}\sw{401}{1515}{catq}{Intermediate}\sw{401}{1546}{catk}{Excluded}
\node[font=\tf] at (434.5,1603) {\textit{TP53} mutations};
\sw{401}{1633}{catd}{Mutant}\sw{401}{1665}{cate}{Wild-type}\swn{401}{1695}{No data}
\node[font=\tf] at (433,1749) {\textit{CTNNB1} mutations};
\sw{401}{1776}{catp}{High activating mutation}\sw{401}{1807}{catm}{Moderate activating mutation}\sw{401}{1838}{catf}{Low activating mutation}\sw{401}{1869}{cate}{Wild-type}\swn{401}{1900}{No data}
\node[font=\tf] at (871.5,1332) {Molecular classes};
\node[align=center,font=\tf] at (787,1439) {Chiang\\Subclasses};
\swm{1362}{catl}{CTNNB1}\swm{1393}{legg}{Proliferation}\swm{1425}{catp}{Interferon}\swm{1455}{cato}{Poly 7}\swm{1487}{catu}{Unannotated}\swm{1518}{catn}{Non Significant}
\node[align=center,font=\tf] at (787,1622) {Hoshida\\Subclasses};
\swm{1575}{legg}{S1}\swm{1606}{legy}{S2}\swm{1638}{catr}{S3}\swm{1669.5}{catn}{Non Significant}
\swm{1760}{catd}{Presence of signature}\swm{1791}{catn}{Absence of signature}
\node[font=\fontsize{10.4}{14}\selectfont\bfseries] at (1274,1335) {Immune infiltration};
\swr{1362}{catr}{Moderate}\swr{1392}{catl}{Low}\swn[\gfr]{1247}{1422}{No data}
\node[font=\fontsize{10.4}{14}\selectfont\bfseries] at (1274,1477) {Chromosomal aberrations};
\swr{1504}{catr}{Gain}\swr{1536}{catl}{Loss}\swr{1568}{cate}{Neutral}\swn[\gfr]{1247}{1600}{No data}
\node[align=center,font=\fontsize{7.6}{9.6}\selectfont\bfseries] at (1279,1683) {Enrichment score/gene\\expression};
\fill[barA] (1180,1714) rectangle (1208.6,1739);\fill[barB] (1208.6,1714) rectangle (1237.2,1739);\fill[barC] (1237.2,1714) rectangle (1265.8,1739);
\fill[barE] (1294.4,1714) rectangle (1323,1739);\fill[barF] (1323,1714) rectangle (1351.6,1739);\fill[catr] (1351.6,1714) rectangle (1380,1739);
\draw[line width=1.6pt] (1180,1714) rectangle (1380,1739);
\node[anchor=east,font=\fontsize{8}{9}\selectfont] at (1174,1727.5) {Min};
\node[anchor=west,font=\fontsize{8}{9}\selectfont] at (1383,1727.5) {Max};
\end{axis}
\end{tikzpicture}
\end{document}
